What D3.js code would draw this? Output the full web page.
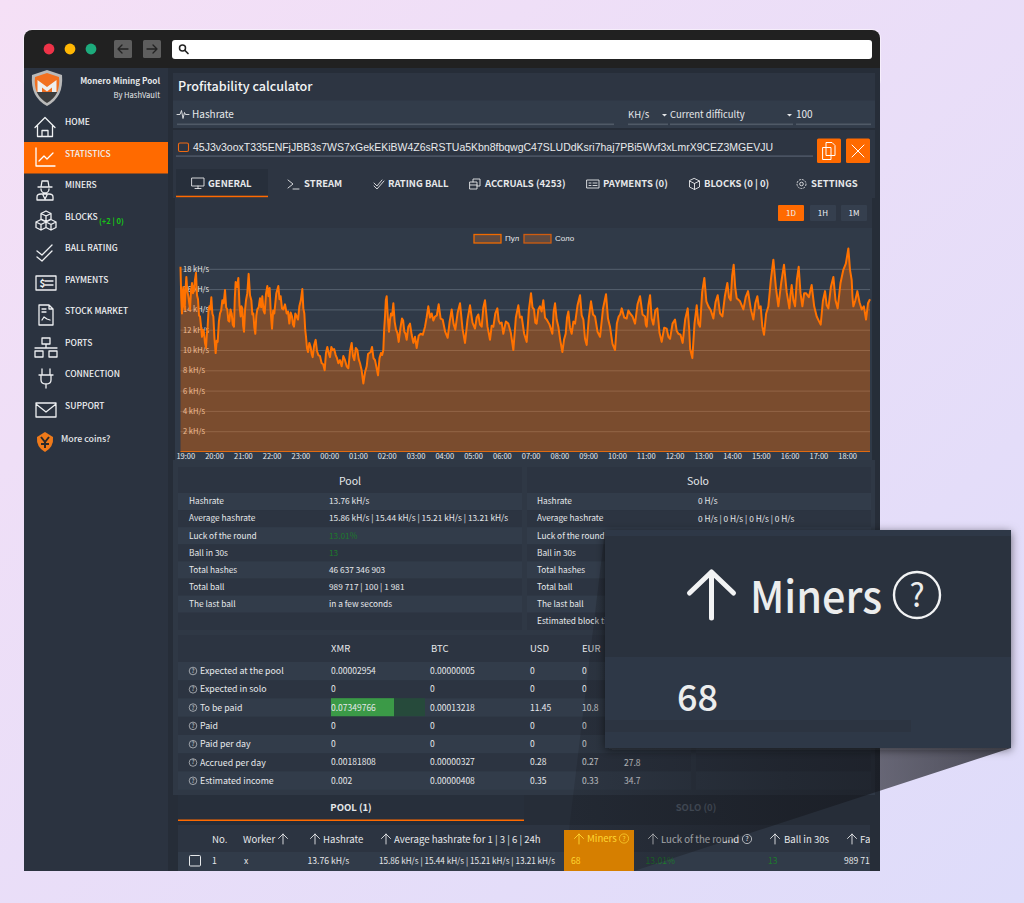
<!DOCTYPE html>
<html><head><meta charset="utf-8">
<style>html,body{margin:0;padding:0;background:#e8ddf8}svg{display:block}text{font-family:"Noto Sans CJK SC","Noto Sans",sans-serif}</style>
<script src="https://cdn.jsdelivr.net/npm/d3@7/dist/d3.min.js"></script></head><body><svg id="c" width="1024" height="903"></svg>
<script>
// ---------- chart data: [minutes after 18:50, kH/s] ----------
const poolSamples=[[0,18.2],[1.5,15.2],[3.1,13.6],[4.4,15.6],[5.9,16.2],[7.2,14.4],[8.7,14],[10.4,15.9],[12.2,17.2],[14.2,15.8],[16.3,15.3],[18,14.7],[19.8,14],[22,15.9],[24,16.6],[26,15.6],[28.1,15.9],[30.2,16.9],[32.3,17.6],[34.4,15.4],[36.5,15],[38.6,13.4],[40.7,13.3],[42.7,12.4],[44.8,11.3],[47,12],[49,11.7],[51,10.7],[53.2,10.2],[55,11.6],[56.6,12.3],[58.4,13.9],[60.1,14.3],[62.2,14],[64.3,15.2],[66.4,13.6],[68.5,13.3],[70.9,11.1],[73.3,9.7],[75.4,10.9],[77.5,10.8],[80,12.8],[82.4,13.6],[84.8,13.9],[87.2,14.9],[90,14.6],[92.8,15.9],[95.2,14.2],[97.6,14],[99.7,12.9],[101.8,12.8],[104.2,14],[106.7,13.6],[109,12.5],[111.5,12.3],[113.2,15.1],[115,16.7],[117.8,16.2],[120.6,17.1],[123,14.4],[125.4,13.3],[127.1,14.3],[128.9,14.1],[130.6,12.4],[132.4,11.8],[134.5,13.9],[136.6,14.9],[139.3,15.6],[142.1,17.5],[144.9,15.4],[147.7,14.9],[149.8,13.5],[151.9,13.6],[154,12.2],[156,11.6],[158.1,13.4],[160.2,14],[163,14.2],[165.8,15.1],[168.2,14.2],[170.6,15.3],[173,13.9],[175.5,13.6],[178.2,15.5],[181,16.3],[183.4,15.3],[185.9,16.1],[188.3,13.6],[190.8,12.1],[193.2,13.9],[195.6,13.6],[199.8,15.6],[204,16.3],[206.4,15],[208.8,15.3],[211.6,14.1],[214.4,14],[217.9,14.5],[221.4,13.6],[224.1,13.8],[226.9,12.6],[229.7,13.7],[232.5,13.3],[234.6,12.5],[236.6,12.3],[239.4,13.6],[242.2,13.3],[245,13],[247.8,14.3],[250.9,14.9],[254,16],[256.1,14.1],[258.2,13.6],[260,12],[261.7,11.3],[263.7,10.2],[265.8,9.8],[268.6,10.7],[271.4,10.3],[273.5,9.6],[275.6,9.3],[278.7,10.5],[281.8,11],[284.6,9.9],[287.4,9.5],[290.8,9.4],[294.3,8.7],[297.4,8.6],[300.6,8],[303.3,9.7],[306.1,10.3],[308.9,9.7],[311.7,9.3],[314.5,10.3],[317.3,10],[320.4,10.1],[323.5,9.5],[326.3,9.2],[329.1,8.7],[332.5,9],[336,8.4],[339.5,9.4],[343,9],[346.5,8.4],[350,8.2],[353.4,9.9],[356.9,10.7],[359.6,9.4],[362.4,9],[365.5,10.2],[368.7,10],[371.5,9.1],[374.3,8.7],[377.7,8],[381.2,6.7],[384.7,7.8],[388.2,8.4],[391,9.6],[393.7,9.7],[396.5,9.8],[399.3,10.3],[402.4,9.2],[405.5,9],[408.6,8.3],[411.8,7.5],[414.9,9.2],[418,9.7],[420.4,9.5],[422.9,10],[424.6,12],[426.4,13.3],[428.1,14.9],[429.9,15.3],[432.3,13.2],[434.7,11.8],[436.8,13],[438.9,13.6],[441.3,13.4],[443.8,14.6],[446.5,12.8],[449.3,12],[452.1,11.7],[454.9,10.8],[458.3,12.1],[461.8,13.1],[464.2,12.9],[466.7,11.8],[469.1,11.6],[471.6,11],[475,12.3],[478.5,12.6],[482,11.5],[485.5,10.7],[489,11.3],[492.4,10.2],[496.5,11.4],[500.7,11.6],[505.2,11.5],[509.8,12.3],[513.2,13.2],[516.7,14.3],[520.2,13.2],[523.7,13.6],[527.1,12.9],[530.6,13.3],[534.4,13.4],[538.3,14.5],[542.4,13.1],[546.6,13],[551.8,11.8],[557,11.2],[561.2,12.8],[565.4,14],[569.2,12.6],[573,12],[577.9,13.7],[582.8,14.6],[588,12.1],[593.2,10.7],[598.4,13],[603.6,14.4],[608.8,12.7],[614,12.1],[617.5,13.2],[621,13.5],[624.5,12.5],[628,12.3],[631.4,14.2],[634.9,14.9],[640.1,12.3],[645.3,11],[648.8,12.4],[652.3,12.3],[656.4,13.6],[660.6,14.1],[663.4,12.9],[666.2,12.6],[669.6,12.7],[673.1,11.6],[678.3,12.8],[683.5,12.6],[688.7,11.7],[694,10],[699.2,13.2],[704.4,14.4],[707.8,13.2],[711.3,13.3],[716.5,11.6],[721.8,10.8],[726.3,13.9],[730.8,15.6],[733.9,14.2],[737.1,14],[739.8,12.7],[742.6,12.6],[746.1,14],[749.6,14.3],[753,13.8],[756.5,14.9],[760,13.2],[763.5,13],[769.4,12.5],[775.3,11.6],[778.1,13.8],[780.9,14.6],[784.3,13],[787.8,12.3],[792,10.9],[796.2,9.8],[799.6,11],[803.1,11.6],[805.9,13.2],[808.7,13.8],[812.1,12.2],[815.6,11.6],[819.1,12.8],[822.6,12.6],[827.8,14.4],[833,15.4],[836.5,13.4],[840,13],[843.4,11.1],[846.9,10.5],[851.4,13.2],[855.9,14.8],[860.1,13.5],[864.3,13.3],[869.5,11.8],[874.7,11.3],[881,14.1],[887.2,15.5],[891.3,13.1],[895.5,12.3],[900.7,10.6],[906,10],[909.8,12.6],[913.6,13.3],[916.7,13.5],[919.9,14.1],[925.1,13.2],[930.3,13.1],[933.8,13.9],[937.3,13.6],[942.5,13.3],[947.7,12.6],[952.9,14.5],[958.1,15.3],[963.3,13.5],[968.5,13.3],[970.2,12.5],[972,12.3],[975.5,14.4],[979,15.4],[982.4,13.1],[985.9,12.5],[990,13.9],[994.2,14.1],[998.7,11.7],[1003.3,10.8],[1008.5,12.2],[1013.7,12.1],[1017.2,11.3],[1020.7,11.1],[1025.9,12.6],[1031.1,13],[1034.5,11.9],[1038,11.6],[1042.5,11.5],[1047,10.7],[1052.2,13],[1057.5,14.1],[1060.7,12],[1062.6,10.1],[1067.2,9.2],[1071.7,12.6],[1076.3,14.4],[1079.7,12.6],[1083.2,12.3],[1087.7,15.7],[1092.2,17.1],[1096.4,14.8],[1100.6,14.3],[1105.8,13.9],[1111,13.1],[1115.5,14.7],[1120,15.4],[1124.9,13.6],[1129.8,13.3],[1135,15.3],[1140.2,16.6],[1143.6,15.2],[1147.1,14.9],[1150.2,17.3],[1153.4,18.4],[1156.5,16.2],[1159.7,15.1],[1166.6,14.8],[1173.6,14],[1178.4,15.2],[1183.3,15.8],[1188.8,14.1],[1194.4,13],[1198.5,14.6],[1202.7,15.3],[1206.2,14.1],[1209.7,14.3],[1213.1,12.3],[1216.6,11.5],[1221.1,13.6],[1225.7,14.3],[1230.9,16.9],[1236.1,18.9],[1241.3,16.2],[1246.5,14.3],[1252.4,16.6],[1258.3,18.4],[1263.9,15.7],[1269.5,14.1],[1271.9,15.5],[1274.3,16.4],[1277.8,14.9],[1281.3,14.3],[1285.1,16.9],[1288.9,18.2],[1292.7,15.6],[1296.6,14.3],[1300.4,15.6],[1304.2,15.6],[1310.1,15.2],[1316,16.4],[1321.2,14.3],[1326.5,13.3],[1330.6,12.9],[1334.8,12.5],[1339.3,14.8],[1343.8,15.8],[1347.3,14.4],[1350.8,14.1],[1356,16.2],[1361.2,17.2],[1365.7,14.9],[1370.2,14.1],[1376.1,16.6],[1382,17.9],[1387.2,18.5],[1392.5,20],[1395.9,17.9],[1399.4,16.9],[1401.1,15.2],[1402.9,14.3],[1407,14.9],[1411.2,15.8],[1415.7,14.7],[1420.3,14],[1424.8,14.3],[1429.3,13],[1433.4,14.6],[1437.6,15]];
const soloSamples=[[0,0],[1437.6,0]];
const yTickValues=[2,4,6,8,10,12,14,16,18];
const legendLabels=["Пул","Соло"];
const rangeButtons=["1D","1H","1M"];
const navLabels=["HOME","STATISTICS","MINERS","BLOCKS","BALL RATING","PAYMENTS","STOCK MARKET","PORTS","CONNECTION","SUPPORT"];
const tabLabels=["GENERAL","STREAM","RATING BALL","ACCRUALS (4253)","PAYMENTS (0)","BLOCKS (0 | 0)","SETTINGS"];
const statLabels=["Hashrate","Average hashrate","Luck of the round","Ball in 30s","Total hashes","Total ball","The last ball"];
const poolValues=["13.76 kH/s","15.86 kH/s | 15.44 kH/s | 15.21 kH/s | 13.21 kH/s","13.01%","13","46 637 346 903","989 717 | 100 | 1 981","in a few seconds"];
const earningsLabels=["Expected at the pool","Expected in solo","To be paid","Paid","Paid per day","Accrued per day","Estimated income"];
const xmrValues=["0.00002954","0","0.07349766","0","0","0.00181808","0.002"];
const btcValues=["0.00000005","0","0.00013218","0","0","0.00000327","0.00000408"];
const usdValues=["0","0","11.45","0","0","0.28","0.35"];
const eurValues=["0","0","10.8","0","0","0.27","0.33"];

// ---------- page ----------
const svg=d3.select("#c");
const defs=svg.append("defs");
const bg=defs.append("linearGradient").attr("id","bg").attr("x1",0).attr("y1",0).attr("x2",1).attr("y2",1);
bg.append("stop").attr("offset",0).attr("stop-color","#f5e0f6");
bg.append("stop").attr("offset",1).attr("stop-color","#dedcfa");
const cg=defs.append("linearGradient").attr("id","cone").attr("gradientUnits","userSpaceOnUse").attr("x1",570).attr("y1",800).attr("x2",1000).attr("y2",760);
cg.append("stop").attr("offset",0).attr("stop-color","#14161c").attr("stop-opacity",.18);
cg.append("stop").attr("offset",.5).attr("stop-color","#14161c").attr("stop-opacity",.5);
cg.append("stop").attr("offset",1).attr("stop-color","#14161c").attr("stop-opacity",.72);
const sh=defs.append("filter").attr("id","sh").attr("x","-10%").attr("y","-10%").attr("width","120%").attr("height","125%");
sh.append("feDropShadow").attr("dx",0).attr("dy",2).attr("stdDeviation",5).attr("flood-color","#101018").attr("flood-opacity",.55);
const sg=defs.append("linearGradient").attr("id","shield").attr("x1",0).attr("y1",0).attr("x2",0).attr("y2",1);
sg.append("stop").attr("offset",0).attr("stop-color","#f27020");sg.append("stop").attr("offset",.62).attr("stop-color","#f27020");sg.append("stop").attr("offset",.63).attr("stop-color","#3d3d3d");
defs.append("clipPath").attr("id","winclip").append("rect").attr("x",24).attr("y",30).attr("width",856).attr("height",841);
defs.append("clipPath").attr("id","faclip").append("rect").attr("x",178).attr("y",825).attr("width",692).attr("height",46);

const rect=(g,x,y,w,h,fill,rx)=>g.append("rect").attr("x",x).attr("y",y).attr("width",w).attr("height",h).attr("fill",fill).attr("rx",rx||0);
const txt=(g,x,y,s,o={})=>g.append("text").attr("x",x).attr("y",y).attr("dy",".35em").attr("fill",o.fill||"#e6e8ea").attr("font-size",o.size||8.3).attr("font-weight",o.weight||400).attr("text-anchor",o.anchor||"start").style("font-family",o.font||null).attr("textLength",o.len||null).attr("lengthAdjust",o.len?"spacingAndGlyphs":null).text(s);
const icon=(g,x,y,d,k=1,c="#eef0f2",sw=1.3)=>g.append("path").attr("d",d).attr("transform",`translate(${x},${y}) scale(${k})`).attr("fill","none").attr("stroke",c).attr("stroke-width",sw/k).attr("stroke-linejoin","round").attr("stroke-linecap","round");

rect(svg,0,0,1024,903,"url(#bg)");
rect(svg,23,29,858,60,"#f6eefb",9);
const win=svg.append("g").attr("clip-path","url(#winclip)");
rect(win,24,30,856,60,"#212121",8);
rect(win,24,68,856,803,"#262d38");
// toolbar
[["#ee3348",49],["#ffb703",70],["#1dab7c",91]].forEach(d=>win.append("circle").attr("cx",d[1]).attr("cy",49).attr("r",5.4).attr("fill",d[0]));
rect(win,114,40,18,18,"#5e5e5e",1.5);rect(win,143,40,18,18,"#5e5e5e",1.5);
icon(win,123,49,"M5 0H-5M-1 -4L-5 0L-1 4",1,"#222",1.3);icon(win,152,49,"M-5 0H5M1 -4L5 0L1 4",1,"#222",1.3);
rect(win,172,40,700,19,"#ffffff",3);
win.append("circle").attr("cx",182.5).attr("cy",48).attr("r",3).attr("fill","none").attr("stroke","#222").attr("stroke-width",1.5);
icon(win,185,50.5,"M0 0L3 3",1,"#222",1.7);

// sidebar
rect(win,24,68,144,803,"#2b3340");
const sb=win.append("g");
sb.append("path").attr("d","M32 75 L47 70 L62 75 Q64 97 47 106 Q30 97 32 75Z").attr("fill","#b9b9b9");
sb.append("path").attr("d","M35 77 L47 73 L59 77 Q61 95 47 103 Q33 95 35 77Z").attr("fill","url(#shield)");
sb.append("path").attr("d","M37.5 92V80L47 87L56.5 80V92H52V87.5L47 91.5L42 87.5V92Z").attr("fill","#eeeeee");
txt(sb,160,81.6,"Monero Mining Pool",{anchor:"end",weight:700,size:8.2});
txt(sb,160,95,"By HashVault",{anchor:"end",size:7.6});
const navY=[122,154,185,217,248,280,311,343,374,406];
rect(sb,24,142,144,31.5,"#ff6a00");
sb.selectAll("text.nav").data(navLabels).enter().append("text").attr("class","nav").attr("x",65).attr("y",(d,i)=>navY[i]).attr("dy",".35em").attr("fill","#f0f1f3").attr("font-size",8.5).attr("font-weight",500).text(d=>d);
txt(sb,99,221,"(+2 | 0)",{fill:"#17c617",size:7.6,weight:700});
txt(sb,61,439,"More coins?",{size:8.8,weight:500});
icon(sb,45,126.5,"M-10 1L0 -9L10 1M-7.5 -1V10H7.5V-1M-3 10V4H3V10");
icon(sb,45,157,"M-9 -9V9H10M-6 4L-1 -1L2 2L8 -4",1,"#fff");
icon(sb,45,190,"M-7 -3H7M-4 -3L-3 -9H3L4 -3M-4 -1A4 4 0 0 0 4 -1M-8 10V7Q-8 4 -4 4H4Q8 4 8 7V10ZM-2 5L0 9L2 5");
icon(sb,46,221,"M0 -10L5 -7.5V-2L0 .5L-5 -2V-7.5ZM-5 -7.5L0 -5L5 -7.5M0 -5V.5M-5 -1.5L0 1V6.5L-5 9L-10 6.5V1ZM-10 1L-5 3.5L0 1M-5 3.5V9M5 -1.5L10 1V6.5L5 9L0 6.5V1ZM0 1L5 3.5L10 1M5 3.5V9");
icon(sb,45,252,"M-8 -1L-3 3L7 -7M-8 5L-3 9L7 -1");
icon(sb,46,283,"M-10 -7H10V7H-10ZM-1 -2H7M-1 2H7");
txt(sb,39.5,283,"$",{size:10,weight:700,fill:"#eef0f2"});
icon(sb,46,315,"M-7 -10H3L7 -6V10H-7ZM3 -10V-6H7M-4 -6H0M-4 -3H0M-4 5L-2 2L1 4L4 5");
icon(sb,46,347,"M-4 -9H4V-3H-4ZM-11 4H-3V10H-11ZM3 4H11V10H3ZM0 -3V1M-11 1H11");
icon(sb,46,378,"M-7 -3H7M-4 -3V-9M4 -3V-9M-5 -3V2Q-5 6 0 6Q5 6 5 2V-3M0 6V10");
icon(sb,46,410,"M-10 -7H10V7H-10ZM-10 -6L0 2L10 -6");
sb.append("path").attr("d","M37 437L45 432L53 437Q54 447 45 452Q36 447 37 437Z").attr("fill","#ef7a1a");
sb.append("path").attr("d","M41 437L45 442L49 437M45 442V448M41 444H49").attr("stroke","#2a2a2a").attr("stroke-width",2).attr("fill","none");

// header panel
const main=win.append("g");
rect(main,173,73,702,55,"#2d3542");
rect(main,173,100.5,702,27.5,"#323c4a");
txt(main,178,87,"Profitability calculator",{size:12.6,weight:500,fill:"#f4f5f6"});
icon(main,183,114.5,"M-6 0H-3L-1.5 -4L0 4L1.5 -2L2.5 0H6",1,"#e6e8ea",.9);
txt(main,192,114.5,"Hashrate",{size:10});
[[177,437],[628,40],[670,123],[796,75]].forEach(d=>rect(main,d[0],123.5,d[1],1.6,"#505a67"));
txt(main,628,115,"KH/s",{size:9.5});
txt(main,670,115,"Current difficulty",{size:9.5});
txt(main,796,114.5,"100",{size:10});
[664.5,789.5].forEach(x=>main.append("path").attr("d",`M${x-2.5} 114L${x+2.5} 114L${x} 116.5Z`).attr("fill","#e6e8ea"));
// address
rect(main,173,130,702,38,"#2d3542");
main.append("rect").attr("x",178.5).attr("y",143).attr("width",10).attr("height",8.5).attr("rx",1.5).attr("fill","none").attr("stroke","#ef6a12").attr("stroke-width",1.1);
txt(main,193,147,"45J3v3ooxT335ENFjJBB3s7WS7xGekEKiBW4Z6sRSTUa5Kbn8fbqwgC47SLUDdKsri7haj7PBi5Wvf3xLmrX9CEZ3MGEVJU",{font:"Liberation Sans",size:10.5,len:580,fill:"#e8eaec"});
rect(main,176,155.5,637,1.2,"#566070");
rect(main,817,138.5,24,24.5,"#ff6a00",1.5);rect(main,846,138.5,24,24.5,"#ff6a00",1.5);
icon(main,829,150.5,"M-6 -3H-3V-8H3L6 -5V5H2V9H-6ZM-3 -3V5H2M-3 -3H2V5",1,"#fff",1);
icon(main,858,151,"M-6 -6L6 6M6 -6L-6 6",1,"#fff",1);
// tabs
rect(main,173,168,702,30,"#2d3542");
rect(main,176,169,92,27,"#272f3b");
rect(main,176,195.7,92,1.5,"#ff6a00");
const tabX=[208,304,388,485,603,704,811];
main.selectAll("text.tab").data(tabLabels).enter().append("text").attr("class","tab").attr("x",(d,i)=>tabX[i]).attr("y",184).attr("dy",".35em").attr("fill","#e6e8ea").attr("font-size",9.5).attr("font-weight",700).text(d=>d);
icon(main,198,183,"M-6 -5H6V3H-6ZM-3 5.5H3M0 3V5.5",1,"#e6e8ea",.9);
icon(main,293,184,"M-5 -4L0 0L-5 4M0 5H6",1,"#e6e8ea",.9);
icon(main,379,184,"M-5 -1L-2 2L3 -4M-5 2L-2 5L5 -3",1,"#e6e8ea",.9);
icon(main,475,184,"M-5 -2H2V5H-5ZM-2 -2V-5H5V2H2M-5 1H2",1,"#e6e8ea",.9);
icon(main,593,184,"M-6 -4H6V4H-6ZM-4 -1H-2M0 -1H4M-4 1.5H-2M0 1.5H4",1,"#e6e8ea",.9);
icon(main,694.5,184,"M0 -5.5L5 -3V3L0 5.5L-5 3V-3ZM-5 -3L0 -.5L5 -3M0 -.5V5.5",1,"#e6e8ea",.9);
main.append("circle").attr("cx",801.5).attr("cy",184).attr("r",4.5).attr("fill","none").attr("stroke","#e6e8ea").attr("stroke-width",.9).attr("stroke-dasharray","2 1");
main.append("circle").attr("cx",801.5).attr("cy",184).attr("r",1.8).attr("fill","none").attr("stroke","#e6e8ea").attr("stroke-width",.9);

// chart panel
rect(main,175,198,697,30,"#2d3542");
rect(main,175,228,697,232,"#303a48");
const btnX=[778,810,841];
main.selectAll("rect.rb").data(rangeButtons).enter().append("rect").attr("class","rb").attr("x",(d,i)=>btnX[i]).attr("y",205).attr("width",26).attr("height",16).attr("rx",1).attr("fill",(d,i)=>i?"#353f4e":"#ff6a00");
main.selectAll("text.rb").data(rangeButtons).enter().append("text").attr("class","rb").attr("x",(d,i)=>btnX[i]+13).attr("y",213.5).attr("dy",".35em").attr("text-anchor","middle").attr("fill","#eef0f2").attr("font-size",8).text(d=>d);
[[474,0],[524,1]].forEach(d=>{
  main.append("rect").attr("x",d[0]).attr("y",234.5).attr("width",27).attr("height",8.5).attr("fill","#5f4a41").attr("stroke",d[1]?"#d05c10":"#f06a00").attr("stroke-width",1.3);
  txt(main,d[0]+31,238.5,legendLabels[d[1]],{font:"Liberation Sans",size:8});
});
const plot=main.append("g");
const t0=Date.UTC(2021,0,1,18,50);
const toDate=m=>new Date(t0+m*60000);
const x=d3.scaleUtc().domain([toDate(0),toDate(1437.6)]).range([180.5,870]);
const y=d3.scaleLinear().domain([0,18]).range([451.5,268.8]);
const gy=plot.append("g").attr("transform","translate(180.5,0)").call(d3.axisRight(y).tickValues(yTickValues).tickSize(689.5).tickFormat(d=>d+" kH/s"));
gy.select(".domain").remove();
gy.selectAll("line").attr("stroke","#56616e").attr("stroke-width",1);
gy.selectAll("text").attr("x",2.5).attr("fill","#e8e4e0").attr("font-size",7.5);
const gx=plot.append("g").attr("transform","translate(0,451.5)").call(d3.axisBottom(x).ticks(d3.utcHour.every(1)).tickSize(0).tickFormat(d3.utcFormat("%H:%M")));
gx.select(".domain").remove();
gx.selectAll("text").attr("y",2.3).attr("dy",".71em").attr("fill","#e8eaec").attr("font-size",7.5);
const pts=poolSamples.map(d=>({t:toDate(d[0]),v:d[1]}));
const solo=soloSamples.map(d=>({t:toDate(d[0]),v:d[1]}));
const area=d3.area().x(d=>x(d.t)).y0(y(0)).y1(d=>y(d.v));
const line=d3.line().x(d=>x(d.t)).y(d=>y(d.v));
plot.append("path").datum(pts).attr("d",area).attr("fill","#ff6b00").attr("fill-opacity",.36);
plot.append("path").datum(solo).attr("d",line).attr("fill","none").attr("stroke","#e06a10").attr("stroke-width",1);
plot.append("path").datum(pts).attr("d",line).attr("fill","none").attr("stroke","#ff7200").attr("stroke-width",2).attr("stroke-linejoin","round");

// stat panels
rect(main,173,460,702,335,"#2f3845");
const stripe=(g,x0,w,y0,h,n,a,b)=>d3.range(n).forEach(i=>rect(g,x0,y0+i*h,w,h,i%2?b:a));
[[178,344],[527,344]].forEach(d=>{rect(main,d[0],467,d[1],26,"#2c3441");stripe(main,d[0],d[1],493,17.1,8,"#323c4a","#2c3441");});
txt(main,350,481,"Pool",{size:10.5,anchor:"middle"});
txt(main,698,481,"Solo",{size:10.5,anchor:"middle"});
statLabels.forEach((s,i)=>{
  const yy=501.5+i*17.08;
  txt(main,189,yy,s);
  txt(main,537,yy,s);
  txt(main,329,yy,poolValues[i],{fill:(i==2||i==3)?"#1d7a2c":"#e6e8ea"});
});
txt(main,537,621,"Estimated block time");
txt(main,698,501.5,"0 H/s");txt(main,698,518.6,"0 H/s | 0 H/s | 0 H/s | 0 H/s");
// earnings
[[178,513],[696,175]].forEach(d=>{rect(main,d[0],635,d[1],27,"#2c3441");stripe(main,d[0],d[1],662,18.25,7,"#323c4a","#2c3441");});
[[331,"XMR"],[431,"BTC"],[530,"USD"],[582,"EUR"]].forEach(d=>txt(main,d[0],648.5,d[1],{size:9.5}));
rect(main,331,698.2,94,18,"#264a3b");rect(main,331,698.2,63,18,"#3b9a47");
earningsLabels.forEach((s,i)=>{
  const yy=671+i*18.3;
  main.append("circle").attr("cx",193).attr("cy",yy).attr("r",3.8).attr("fill","none").attr("stroke","#e6e8ea").attr("stroke-width",.6);
  txt(main,193,yy,"?",{size:5.5,anchor:"middle"});
  txt(main,200,yy,s,{size:8.8});
  txt(main,331,yy,xmrValues[i],{size:8.5});
  txt(main,430,yy,btcValues[i],{size:8.5});
  txt(main,530,yy,usdValues[i],{size:8.5});
  txt(main,582,yy,eurValues[i],{size:8.5});
});
txt(main,624,762.8,"27.8",{size:8.5});txt(main,624,781,"34.7",{size:8.5});
// worker table
rect(main,178,795,346,25,"#272f3b");
rect(main,178,819.5,346,1.5,"#ff6a00");
txt(main,351,807.5,"POOL (1)",{size:9.5,weight:700,anchor:"middle"});
txt(main,696,808,"SOLO (0)",{size:9.5,weight:700,anchor:"middle",fill:"#56606e"});
rect(main,178,825,692,27,"#2c3441");
rect(main,178,852,692,19,"#313b49");
const arrow=(g,cx,c,k=1)=>icon(g,cx,839,"M0 5V-5M-4.5 -.5L0 -5L4.5 -.5",k,c||"#e6e8ea",.9);
const hq=(g,cx,cy,c)=>{g.append("circle").attr("cx",cx).attr("cy",cy).attr("r",4.6).attr("fill","none").attr("stroke",c).attr("stroke-width",.7);txt(g,cx,cy,"?",{size:6.5,anchor:"middle",fill:c});};
const th=main.append("g").attr("clip-path","url(#faclip)");
const hdrSize=9.6;
[[212,"No."],[243,"Worker"],[323,"Hashrate"],[394,"Average hashrate for 1 | 3 | 6 | 24h"],[661,"Luck of the round"],[784,"Ball in 30s"],[860,"Fa"]].forEach(d=>txt(th,d[0],839.5,d[1],{size:hdrSize}));
[283,315,386,653,775,852].forEach(a=>arrow(th,a));
hq(th,747,839,"#e6e8ea");
main.append("rect").attr("x",189.5).attr("y",855.5).attr("width",11).attr("height",10.5).attr("rx",1).attr("fill","none").attr("stroke","#e6e8ea").attr("stroke-width",1);
txt(main,212,861,"1",{size:8.6});txt(main,244,861,"x",{size:8.6});
txt(main,307.5,861,"13.76 kH/s",{size:8.6});
txt(main,379,861,"15.86 kH/s | 15.44 kH/s | 15.21 kH/s | 13.21 kH/s",{size:8.6,len:176});
txt(main,645.5,861,"13.01%",{size:8.6,fill:"#1d7a2c"});
txt(main,768,861,"13",{size:8.6,fill:"#1d7a2c"});
th.append("text").attr("x",844).attr("y",861).attr("dy",".35em").attr("fill","#e6e8ea").attr("font-size",8.6).text("989 717");

// cone, callout
svg.append("path").attr("d","M605 530L1011 748L634 871L564 871Z").attr("fill","url(#cone)");
const cell=svg.append("g");
rect(cell,564,830,70,41,"#d67f00");
const yel="#ffd832";
icon(cell,579,839,"M0 5V-5M-4.5 -.5L0 -5L4.5 -.5",1,yel,.9);
txt(cell,587,839,"Miners",{size:hdrSize,fill:yel});
hq(cell,624,838.5,yel);
txt(cell,571,861,"68",{size:8.6,fill:yel});
const co=svg.append("g");
co.append("rect").attr("x",605).attr("y",530).attr("width",406).attr("height",218).attr("fill","#2f3846").attr("filter","url(#sh)");
rect(co,605,536,406,121,"#2a323e");
rect(co,605,720,306,12,"#2c3441");
icon(co,711.5,595,"M0 23V-23M-22 -2L0 -23L22 -2",1,"#f2f3f4",5);
co.append("text").attr("x",750).attr("y",613).attr("fill","#eceded").attr("font-size",44).attr("font-weight",500).attr("textLength",132).attr("lengthAdjust","spacingAndGlyphs").text("Miners");
co.append("circle").attr("cx",917).attr("cy",595).attr("r",23).attr("fill","none").attr("stroke","#f2f3f4").attr("stroke-width",2.4);
co.append("text").attr("x",917).attr("y",607).attr("text-anchor","middle").attr("fill","#eceded").attr("font-size",32).text("?");
co.append("text").attr("x",677).attr("y",711).attr("fill","#eceded").attr("font-size",36).attr("font-weight",500).text("68");
</script></body></html>
